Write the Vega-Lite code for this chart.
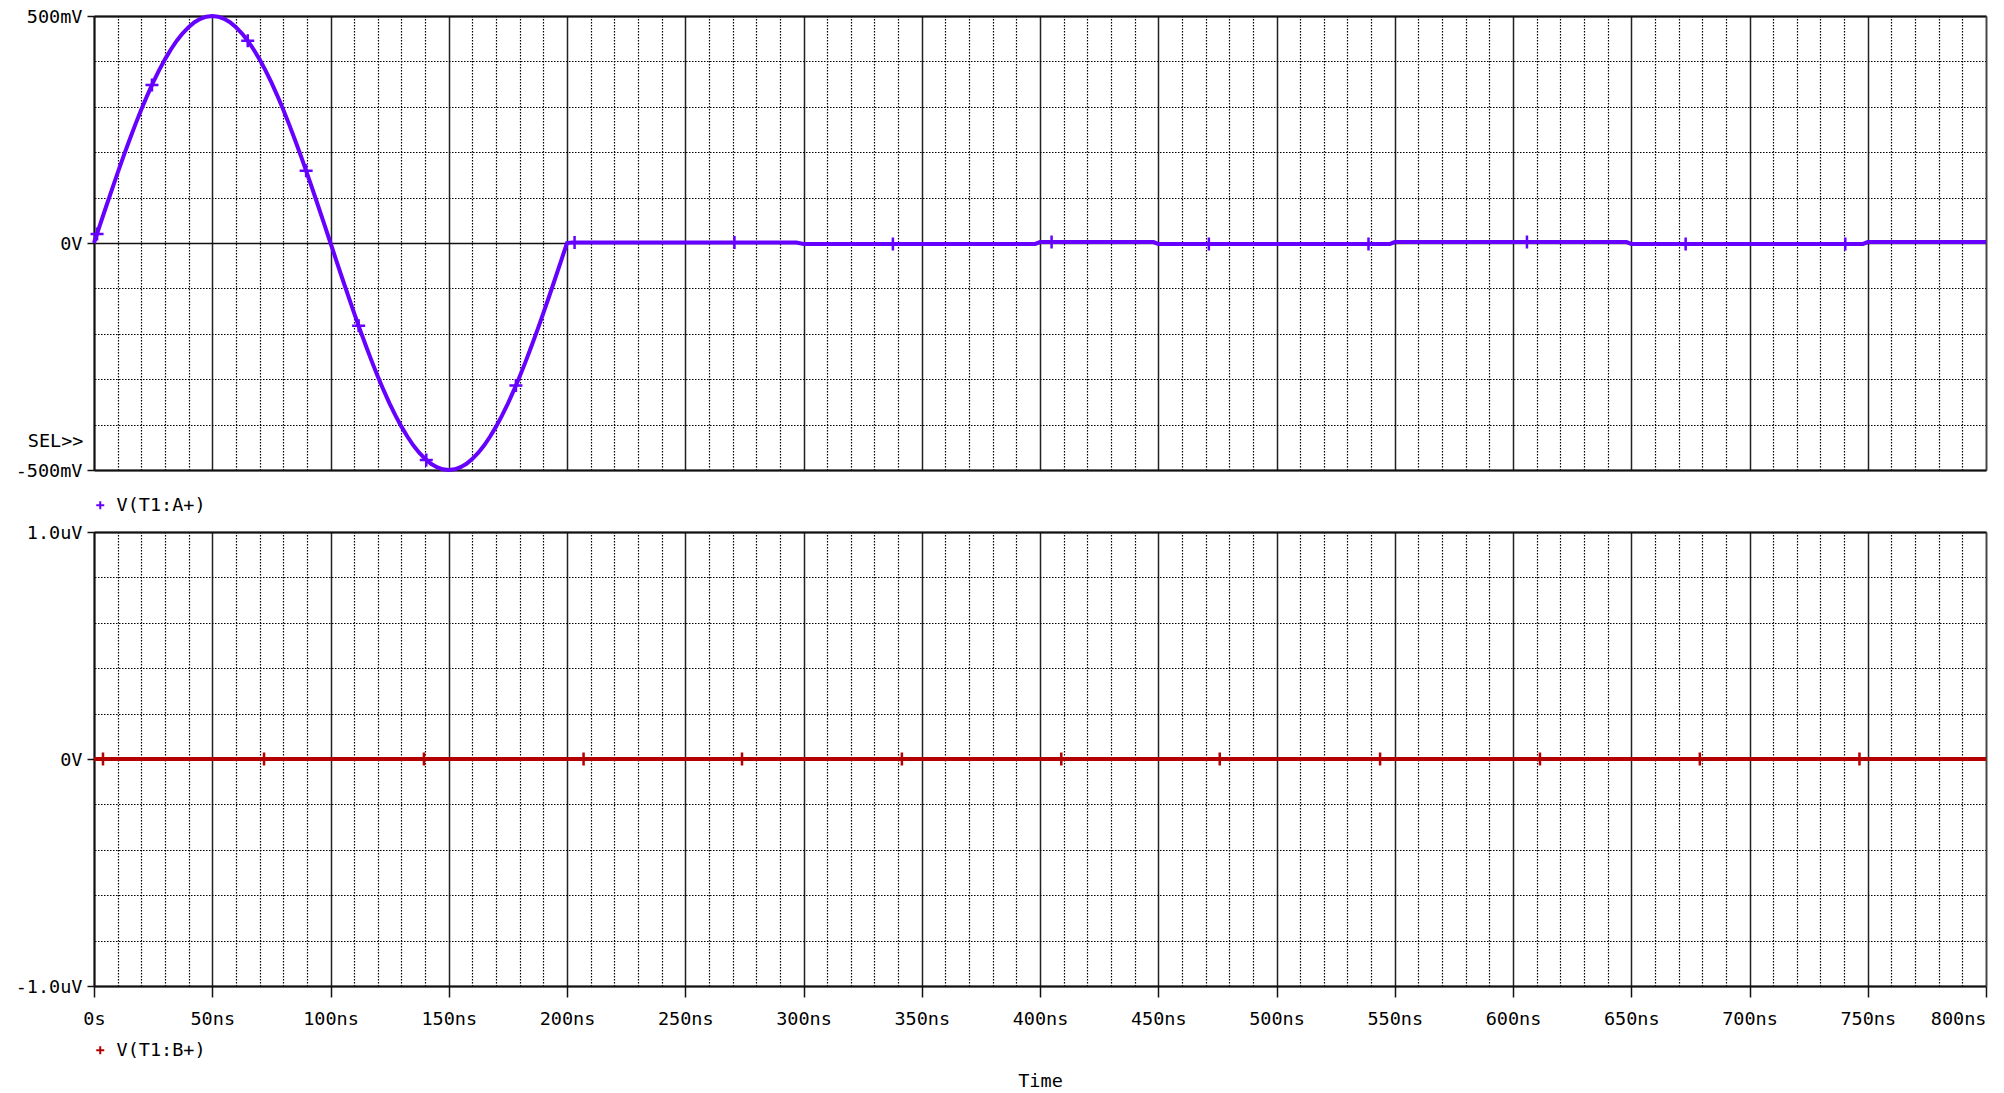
{
  "$schema": "https://vega.github.io/schema/vega-lite/v6.json",
  "background": "white",
  "padding": {"left": 15, "top": 7, "right": 5, "bottom": 5},
  "bounds": "flush",
  "spacing": 62,
  "config": {
    "view": {"stroke": null},
    "font": "DejaVu Sans Mono",
    "axis": {"labelFont": "DejaVu Sans Mono", "labelFontSize": 18.5, "labelColor": "#000", "titleFont": "DejaVu Sans Mono", "titleFontSize": 18.5, "titleFontWeight": "normal", "titleColor": "#000", "gridOpacity": 1}
  },
  "datasets": {
    "waveA": [
      {"t": 0, "v": 0, "s": "V(T1:A+)"},
      {"t": 2.5, "v": 0.0392, "s": "V(T1:A+)"},
      {"t": 5, "v": 0.0782, "s": "V(T1:A+)"},
      {"t": 7.5, "v": 0.1167, "s": "V(T1:A+)"},
      {"t": 10, "v": 0.1545, "s": "V(T1:A+)"},
      {"t": 12.5, "v": 0.1913, "s": "V(T1:A+)"},
      {"t": 15, "v": 0.2270, "s": "V(T1:A+)"},
      {"t": 17.5, "v": 0.2613, "s": "V(T1:A+)"},
      {"t": 20, "v": 0.2939, "s": "V(T1:A+)"},
      {"t": 22.5, "v": 0.3247, "s": "V(T1:A+)"},
      {"t": 25, "v": 0.3536, "s": "V(T1:A+)"},
      {"t": 27.5, "v": 0.3802, "s": "V(T1:A+)"},
      {"t": 30, "v": 0.4045, "s": "V(T1:A+)"},
      {"t": 32.5, "v": 0.4263, "s": "V(T1:A+)"},
      {"t": 35, "v": 0.4455, "s": "V(T1:A+)"},
      {"t": 37.5, "v": 0.4619, "s": "V(T1:A+)"},
      {"t": 40, "v": 0.4755, "s": "V(T1:A+)"},
      {"t": 42.5, "v": 0.4862, "s": "V(T1:A+)"},
      {"t": 45, "v": 0.4938, "s": "V(T1:A+)"},
      {"t": 47.5, "v": 0.4985, "s": "V(T1:A+)"},
      {"t": 50, "v": 0.5, "s": "V(T1:A+)"},
      {"t": 52.5, "v": 0.4985, "s": "V(T1:A+)"},
      {"t": 55, "v": 0.4938, "s": "V(T1:A+)"},
      {"t": 57.5, "v": 0.4862, "s": "V(T1:A+)"},
      {"t": 60, "v": 0.4755, "s": "V(T1:A+)"},
      {"t": 62.5, "v": 0.4619, "s": "V(T1:A+)"},
      {"t": 65, "v": 0.4455, "s": "V(T1:A+)"},
      {"t": 67.5, "v": 0.4263, "s": "V(T1:A+)"},
      {"t": 70, "v": 0.4045, "s": "V(T1:A+)"},
      {"t": 72.5, "v": 0.3802, "s": "V(T1:A+)"},
      {"t": 75, "v": 0.3536, "s": "V(T1:A+)"},
      {"t": 77.5, "v": 0.3247, "s": "V(T1:A+)"},
      {"t": 80, "v": 0.2939, "s": "V(T1:A+)"},
      {"t": 82.5, "v": 0.2613, "s": "V(T1:A+)"},
      {"t": 85, "v": 0.2270, "s": "V(T1:A+)"},
      {"t": 87.5, "v": 0.1913, "s": "V(T1:A+)"},
      {"t": 90, "v": 0.1545, "s": "V(T1:A+)"},
      {"t": 92.5, "v": 0.1167, "s": "V(T1:A+)"},
      {"t": 95, "v": 0.0782, "s": "V(T1:A+)"},
      {"t": 97.5, "v": 0.0392, "s": "V(T1:A+)"},
      {"t": 100, "v": 0, "s": "V(T1:A+)"},
      {"t": 102.5, "v": -0.0392, "s": "V(T1:A+)"},
      {"t": 105, "v": -0.0782, "s": "V(T1:A+)"},
      {"t": 107.5, "v": -0.1167, "s": "V(T1:A+)"},
      {"t": 110, "v": -0.1545, "s": "V(T1:A+)"},
      {"t": 112.5, "v": -0.1913, "s": "V(T1:A+)"},
      {"t": 115, "v": -0.2270, "s": "V(T1:A+)"},
      {"t": 117.5, "v": -0.2613, "s": "V(T1:A+)"},
      {"t": 120, "v": -0.2939, "s": "V(T1:A+)"},
      {"t": 122.5, "v": -0.3247, "s": "V(T1:A+)"},
      {"t": 125, "v": -0.3536, "s": "V(T1:A+)"},
      {"t": 127.5, "v": -0.3802, "s": "V(T1:A+)"},
      {"t": 130, "v": -0.4045, "s": "V(T1:A+)"},
      {"t": 132.5, "v": -0.4263, "s": "V(T1:A+)"},
      {"t": 135, "v": -0.4455, "s": "V(T1:A+)"},
      {"t": 137.5, "v": -0.4619, "s": "V(T1:A+)"},
      {"t": 140, "v": -0.4755, "s": "V(T1:A+)"},
      {"t": 142.5, "v": -0.4862, "s": "V(T1:A+)"},
      {"t": 145, "v": -0.4938, "s": "V(T1:A+)"},
      {"t": 147.5, "v": -0.4985, "s": "V(T1:A+)"},
      {"t": 150, "v": -0.5, "s": "V(T1:A+)"},
      {"t": 152.5, "v": -0.4985, "s": "V(T1:A+)"},
      {"t": 155, "v": -0.4938, "s": "V(T1:A+)"},
      {"t": 157.5, "v": -0.4862, "s": "V(T1:A+)"},
      {"t": 160, "v": -0.4755, "s": "V(T1:A+)"},
      {"t": 162.5, "v": -0.4619, "s": "V(T1:A+)"},
      {"t": 165, "v": -0.4455, "s": "V(T1:A+)"},
      {"t": 167.5, "v": -0.4263, "s": "V(T1:A+)"},
      {"t": 170, "v": -0.4045, "s": "V(T1:A+)"},
      {"t": 172.5, "v": -0.3802, "s": "V(T1:A+)"},
      {"t": 175, "v": -0.3536, "s": "V(T1:A+)"},
      {"t": 177.5, "v": -0.3247, "s": "V(T1:A+)"},
      {"t": 180, "v": -0.2939, "s": "V(T1:A+)"},
      {"t": 182.5, "v": -0.2613, "s": "V(T1:A+)"},
      {"t": 185, "v": -0.2270, "s": "V(T1:A+)"},
      {"t": 187.5, "v": -0.1913, "s": "V(T1:A+)"},
      {"t": 190, "v": -0.1545, "s": "V(T1:A+)"},
      {"t": 192.5, "v": -0.1167, "s": "V(T1:A+)"},
      {"t": 195, "v": -0.0782, "s": "V(T1:A+)"},
      {"t": 197.5, "v": -0.0392, "s": "V(T1:A+)"},
      {"t": 200, "v": 0, "s": "V(T1:A+)"},
      {"t": 202, "v": 0.001, "s": "V(T1:A+)"},
      {"t": 297, "v": 0.001, "s": "V(T1:A+)"},
      {"t": 300, "v": -0.002, "s": "V(T1:A+)"},
      {"t": 398, "v": -0.002, "s": "V(T1:A+)"},
      {"t": 400, "v": 0.002, "s": "V(T1:A+)"},
      {"t": 448, "v": 0.002, "s": "V(T1:A+)"},
      {"t": 450, "v": -0.002, "s": "V(T1:A+)"},
      {"t": 548, "v": -0.002, "s": "V(T1:A+)"},
      {"t": 550, "v": 0.002, "s": "V(T1:A+)"},
      {"t": 648, "v": 0.002, "s": "V(T1:A+)"},
      {"t": 650, "v": -0.002, "s": "V(T1:A+)"},
      {"t": 748, "v": -0.002, "s": "V(T1:A+)"},
      {"t": 750, "v": 0.002, "s": "V(T1:A+)"},
      {"t": 800, "v": 0.002, "s": "V(T1:A+)"}
    ],
    "markA": [
      {"t": 1.3, "v": 0.02, "s": "V(T1:A+)"},
      {"t": 24.5, "v": 0.348, "s": "V(T1:A+)"},
      {"t": 65, "v": 0.4455, "s": "V(T1:A+)"},
      {"t": 89.7, "v": 0.159, "s": "V(T1:A+)"},
      {"t": 111.9, "v": -0.182, "s": "V(T1:A+)"},
      {"t": 140.5, "v": -0.478, "s": "V(T1:A+)"},
      {"t": 178.4, "v": -0.314, "s": "V(T1:A+)"},
      {"t": 203.2, "v": 0.001, "s": "V(T1:A+)"},
      {"t": 270.8, "v": 0.001, "s": "V(T1:A+)"},
      {"t": 337.8, "v": -0.002, "s": "V(T1:A+)"},
      {"t": 404.9, "v": 0.002, "s": "V(T1:A+)"},
      {"t": 471.4, "v": -0.002, "s": "V(T1:A+)"},
      {"t": 538.9, "v": -0.002, "s": "V(T1:A+)"},
      {"t": 605.9, "v": 0.002, "s": "V(T1:A+)"},
      {"t": 673, "v": -0.002, "s": "V(T1:A+)"},
      {"t": 740.5, "v": -0.002, "s": "V(T1:A+)"}
    ],
    "waveB": [
      {"t": 0, "v": 0, "s": "V(T1:B+)"},
      {"t": 800, "v": 0, "s": "V(T1:B+)"}
    ],
    "markB": [
      {"t": 3.8, "v": 0, "s": "V(T1:B+)"},
      {"t": 71.9, "v": 0, "s": "V(T1:B+)"},
      {"t": 139.5, "v": 0, "s": "V(T1:B+)"},
      {"t": 207, "v": 0, "s": "V(T1:B+)"},
      {"t": 274, "v": 0, "s": "V(T1:B+)"},
      {"t": 341.6, "v": 0, "s": "V(T1:B+)"},
      {"t": 409, "v": 0, "s": "V(T1:B+)"},
      {"t": 476, "v": 0, "s": "V(T1:B+)"},
      {"t": 543.8, "v": 0, "s": "V(T1:B+)"},
      {"t": 611.4, "v": 0, "s": "V(T1:B+)"},
      {"t": 679, "v": 0, "s": "V(T1:B+)"},
      {"t": 746.5, "v": 0, "s": "V(T1:B+)"}
    ]
  },
  "resolve": {"scale": {"color": "independent"}, "legend": {"color": "independent"}},
  "vconcat": [
    {
      "width": 1892,
      "height": 454,
      "resolve": {"axis": {"x": "independent", "y": "independent"}},
      "layer": [
        {
          "data": {"name": "waveA"},
          "mark": {"type": "line", "strokeWidth": 4},
          "encoding": {
            "x": {"field": "t", "type": "quantitative", "scale": {"domain": [0, 800], "nice": false, "zero": false},
              "axis": {"orient": "top", "values": [10,20,30,40,60,70,80,90,110,120,130,140,160,170,180,190,210,220,230,240,260,270,280,290,310,320,330,340,360,370,380,390,410,420,430,440,460,470,480,490,510,520,530,540,560,570,580,590,610,620,630,640,660,670,680,690,710,720,730,740,760,770,780,790],
                "grid": true, "gridColor": "#000", "gridDash": [1.5, 1.5], "gridWidth": 1.2, "ticks": false, "labels": false, "domain": true, "domainColor": "#111", "domainWidth": 2, "title": null}},
            "y": {"field": "v", "type": "quantitative", "scale": {"domain": [-0.5, 0.5], "nice": false, "zero": false},
              "axis": {"orient": "right", "values": [-0.4,-0.3,-0.2,-0.1,0.1,0.2,0.3,0.4],
                "grid": true, "gridColor": "#000", "gridDash": [1.5, 1.5], "gridWidth": 1.2, "ticks": false, "labels": false, "domain": true, "domainColor": "#444", "domainWidth": 1.5, "title": null}},
            "color": {"field": "s", "type": "nominal", "scale": {"domain": ["V(T1:A+)"], "range": ["#6600ff"]},
              "legend": {"orient": "none", "legendX": -3, "legendY": 480, "title": null, "symbolType": "M-1,0H1M0,-1V1", "symbolSize": 64, "symbolStrokeWidth": 2, "labelFont": "DejaVu Sans Mono", "labelFontSize": 18.5, "labelColor": "#000", "labelOffset": 7, "padding": 0}}
          }
        },
        {
          "data": {"name": "markA"},
          "mark": {"type": "point", "shape": "M-1,0H1M0,-1V1", "filled": false, "size": 169, "strokeWidth": 2.5, "opacity": 1},
          "encoding": {
            "x": {"field": "t", "type": "quantitative", "scale": {"domain": [0, 800], "nice": false, "zero": false},
              "axis": {"orient": "bottom", "values": [0,50,100,150,200,250,300,350,400,450,500,550,600,650,700,750,800],
                "grid": true, "gridColor": "#222", "gridWidth": 1.5, "ticks": false, "labels": false, "domain": true, "domainColor": "#111", "domainWidth": 2, "title": null}},
            "y": {"field": "v", "type": "quantitative", "scale": {"domain": [-0.5, 0.5], "nice": false, "zero": false},
              "axis": {"orient": "left", "values": [-0.5, 0, 0.5], "labelExpr": "datum.value > 0 ? '500mV' : (datum.value < 0 ? '-500mV' : '0V')",
                "grid": true, "gridColor": "#111", "gridWidth": 1.5, "ticks": true, "tickSize": 7, "tickWidth": 1.5, "tickColor": "#111", "labelPadding": 5,
                "domain": true, "domainColor": "#111", "domainWidth": 2,
                "title": "SEL>>", "titleAngle": 0, "titleAlign": "right", "titleBaseline": "middle", "titleX": -11, "titleY": 424}},
            "color": {"field": "s", "type": "nominal", "scale": {"domain": ["V(T1:A+)"], "range": ["#6600ff"]}}
          }
        }
      ]
    },
    {
      "width": 1892,
      "height": 454,
      "resolve": {"axis": {"x": "independent", "y": "independent"}},
      "layer": [
        {
          "data": {"name": "waveB"},
          "mark": {"type": "line", "strokeWidth": 4},
          "encoding": {
            "x": {"field": "t", "type": "quantitative", "scale": {"domain": [0, 800], "nice": false, "zero": false},
              "axis": {"orient": "top", "values": [10,20,30,40,60,70,80,90,110,120,130,140,160,170,180,190,210,220,230,240,260,270,280,290,310,320,330,340,360,370,380,390,410,420,430,440,460,470,480,490,510,520,530,540,560,570,580,590,610,620,630,640,660,670,680,690,710,720,730,740,760,770,780,790],
                "grid": true, "gridColor": "#000", "gridDash": [1.5, 1.5], "gridWidth": 1.2, "ticks": false, "labels": false, "domain": true, "domainColor": "#111", "domainWidth": 2, "title": null}},
            "y": {"field": "v", "type": "quantitative", "scale": {"domain": [-0.000001, 0.000001], "nice": false, "zero": false},
              "axis": {"orient": "right", "values": [-0.0000008,-0.0000006,-0.0000004,-0.0000002,0.0000002,0.0000004,0.0000006,0.0000008],
                "grid": true, "gridColor": "#000", "gridDash": [1.5, 1.5], "gridWidth": 1.2, "ticks": false, "labels": false, "domain": true, "domainColor": "#444", "domainWidth": 1.5, "title": null}},
            "color": {"field": "s", "type": "nominal", "scale": {"domain": ["V(T1:B+)"], "range": ["#b30000"]},
              "legend": {"orient": "none", "legendX": -3, "legendY": 509, "title": null, "symbolType": "M-1,0H1M0,-1V1", "symbolSize": 64, "symbolStrokeWidth": 2, "labelFont": "DejaVu Sans Mono", "labelFontSize": 18.5, "labelColor": "#000", "labelOffset": 7, "padding": 0}}
          }
        },
        {
          "data": {"name": "markB"},
          "mark": {"type": "point", "shape": "M-1,0H1M0,-1V1", "filled": false, "size": 169, "strokeWidth": 2.5, "opacity": 1},
          "encoding": {
            "x": {"field": "t", "type": "quantitative", "scale": {"domain": [0, 800], "nice": false, "zero": false},
              "axis": {"orient": "bottom", "values": [0,50,100,150,200,250,300,350,400,450,500,550,600,650,700,750,800],
                "labelExpr": "datum.value == 0 ? '0s' : datum.value + 'ns'",
                "labelAlign": {"condition": {"test": "datum.value == 800", "value": "right"}, "value": "center"},
                "grid": true, "gridColor": "#222", "gridWidth": 1.5, "ticks": true, "tickSize": 11, "tickWidth": 1.5, "tickColor": "#111", "labelPadding": 12,
                "domain": true, "domainColor": "#111", "domainWidth": 2, "title": "Time", "titlePadding": 44}},
            "y": {"field": "v", "type": "quantitative", "scale": {"domain": [-0.000001, 0.000001], "nice": false, "zero": false},
              "axis": {"orient": "left", "values": [-0.000001, 0, 0.000001], "labelExpr": "datum.value > 0 ? '1.0uV' : (datum.value < 0 ? '-1.0uV' : '0V')",
                "grid": true, "gridColor": "#111", "gridWidth": 1.5, "ticks": true, "tickSize": 7, "tickWidth": 1.5, "tickColor": "#111", "labelPadding": 5,
                "domain": true, "domainColor": "#111", "domainWidth": 2, "title": null}},
            "color": {"field": "s", "type": "nominal", "scale": {"domain": ["V(T1:B+)"], "range": ["#b30000"]}}
          }
        }
      ]
    }
  ]
}
